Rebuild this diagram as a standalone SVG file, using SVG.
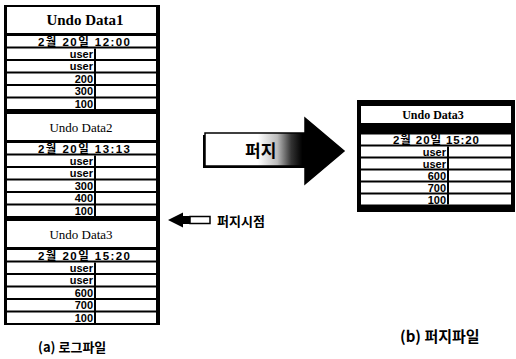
<svg xmlns="http://www.w3.org/2000/svg" width="516" height="359" viewBox="0 0 516 359">
<style>
.blk{fill:#000}
.band{fill:#fff}
.div{fill:#000}
.hd{font-family:"Liberation Serif",serif;fill:#000;text-anchor:middle}
.cell{font-family:"Liberation Sans",Arial,sans-serif;font-weight:bold;font-size:11px;fill:#000;text-anchor:end}
.date{font-family:"Liberation Sans","Noto Sans CJK KR",sans-serif;font-weight:bold;font-size:11.5px;fill:#000;text-anchor:middle}
.kr{font-family:"Noto Sans CJK KR","Noto Sans",sans-serif;font-weight:bold;fill:#000}
</style>
<defs>
<linearGradient id="g" x1="205" y1="0" x2="344" y2="0" gradientUnits="userSpaceOnUse">
<stop offset="0" stop-color="#fff"/>
<stop offset="0.38" stop-color="#fff"/>
<stop offset="0.52" stop-color="#bbb"/>
<stop offset="0.62" stop-color="#333"/>
<stop offset="0.7" stop-color="#000"/>
<stop offset="1" stop-color="#000"/>
</linearGradient>
</defs>

<g id="undo-data1">
<rect class="blk" x="4" y="5" width="156" height="107"/>
<rect class="band" x="7" y="7" width="149" height="26"/>
<text class="hd" x="85" y="25" font-size="15" font-weight="bold">Undo Data1</text>
<rect class="band" x="7" y="36" width="149" height="10.5"/>
<rect class="band" x="7" y="48.5" width="149" height="10.5"/>
<rect class="band" x="7" y="61" width="149" height="10.5"/>
<rect class="band" x="7" y="73.5" width="149" height="10.5"/>
<rect class="band" x="7" y="86" width="149" height="10.5"/>
<rect class="band" x="7" y="98.5" width="149" height="10.5"/>
<rect class="div" x="94" y="48.5" width="2" height="60.5"/>
<text class="date" x="84" y="45.5" textLength="92" lengthAdjust="spacing">2월 20일 12:00</text>
<text class="cell" x="93" y="57.5">user</text>
<text class="cell" x="93" y="70">user</text>
<text class="cell" x="93" y="82.5">200</text>
<text class="cell" x="93" y="95">300</text>
<text class="cell" x="93" y="107.5">100</text>
</g>

<g id="undo-data2">
<rect class="blk" x="4" y="112" width="156" height="107"/>
<rect class="band" x="7" y="114" width="149" height="26"/>
<text class="hd" x="81" y="131.5" font-size="13">Undo Data2</text>
<rect class="band" x="7" y="143" width="149" height="10.5"/>
<rect class="band" x="7" y="155.5" width="149" height="10.5"/>
<rect class="band" x="7" y="168" width="149" height="10.5"/>
<rect class="band" x="7" y="180.5" width="149" height="10.5"/>
<rect class="band" x="7" y="193" width="149" height="10.5"/>
<rect class="band" x="7" y="205.5" width="149" height="10.5"/>
<rect class="div" x="94" y="155.5" width="2" height="60.5"/>
<text class="date" x="84" y="152.5" textLength="92" lengthAdjust="spacing">2월 20일 13:13</text>
<text class="cell" x="93" y="164.5">user</text>
<text class="cell" x="93" y="177">user</text>
<text class="cell" x="93" y="189.5">300</text>
<text class="cell" x="93" y="202">400</text>
<text class="cell" x="93" y="214.5">100</text>
</g>

<g id="undo-data3-log">
<rect class="blk" x="4" y="219" width="156" height="106"/>
<rect class="band" x="7" y="221" width="149" height="26"/>
<text class="hd" x="81" y="238.5" font-size="13">Undo Data3</text>
<rect class="band" x="7" y="250" width="149" height="10.5"/>
<rect class="band" x="7" y="262.5" width="149" height="10.5"/>
<rect class="band" x="7" y="275" width="149" height="10.5"/>
<rect class="band" x="7" y="287.5" width="149" height="10.5"/>
<rect class="band" x="7" y="300" width="149" height="10.5"/>
<rect class="band" x="7" y="312.5" width="149" height="10.5"/>
<rect class="div" x="94" y="262.5" width="2" height="60.5"/>
<text class="date" x="84" y="259.5" textLength="92" lengthAdjust="spacing">2월 20일 15:20</text>
<text class="cell" x="93" y="271.5">user</text>
<text class="cell" x="93" y="284">user</text>
<text class="cell" x="93" y="296.5">600</text>
<text class="cell" x="93" y="309">700</text>
<text class="cell" x="93" y="321.5">100</text>
</g>

<g id="undo-data3-purge">
<rect class="blk" x="357" y="100" width="158" height="112"/>
<rect class="band" x="361" y="106" width="150" height="17"/>
<text class="hd" x="433" y="118.5" font-size="12" font-weight="bold">Undo Data3</text>
<rect class="band" x="361" y="134.5" width="150" height="10"/>
<rect class="band" x="361" y="146.5" width="150" height="10"/>
<rect class="band" x="361" y="158.5" width="150" height="10"/>
<rect class="band" x="361" y="170.5" width="150" height="10"/>
<rect class="band" x="361" y="182.5" width="150" height="10"/>
<rect class="band" x="361" y="194.5" width="150" height="10"/>
<rect class="div" x="447" y="146.5" width="2" height="58"/>
<text class="date" x="436" y="143.5" textLength="86" lengthAdjust="spacing">2월 20일 15:20</text>
<text class="cell" x="446" y="155.5">user</text>
<text class="cell" x="446" y="167.5">user</text>
<text class="cell" x="446" y="179.5">600</text>
<text class="cell" x="446" y="191.5">700</text>
<text class="cell" x="446" y="203.5">100</text>
</g>

<g id="connectors">
<g id="purge-arrow">
<rect x="203" y="135" width="104" height="33" fill="#000"/>
<polygon points="205,133 305,133 305,118 344,151 305,184 305,166 205,166" fill="url(#g)" stroke="#000" stroke-width="1.5"/>
<text class="kr" x="245" y="157" font-size="17">퍼지</text>
</g>
<g id="purge-point">
<polygon points="168,220 183,212.5 183,216 190,216 190,224 183,224 183,227.5" fill="#000"/>
<rect x="190" y="216.5" width="20" height="7" fill="#fff" stroke="#000" stroke-width="1.5"/>
<text class="kr" x="217" y="226" font-size="13">퍼지시점</text>
</g>
</g>

<text class="kr" x="38" y="352" font-size="13" font-weight="600">(a) 로그파일</text>
<text class="kr" x="400" y="342" font-size="15" font-weight="600">(b) 퍼지파일</text>
</svg>
